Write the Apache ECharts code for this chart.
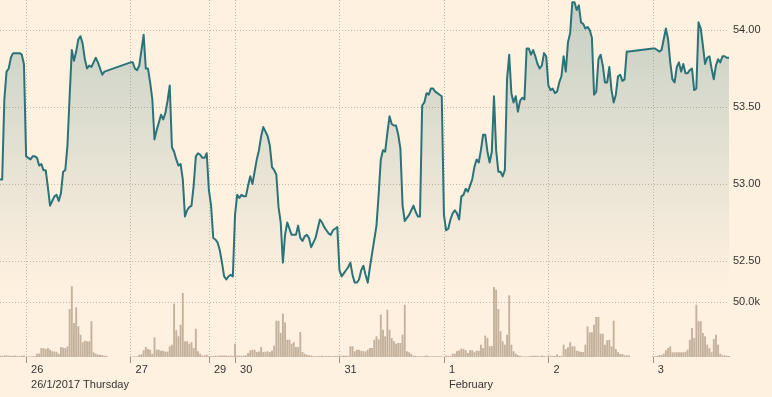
<!DOCTYPE html>
<html><head><meta charset="utf-8">
<script src="https://cdn.jsdelivr.net/npm/echarts@6/dist/echarts.min.js"></script>
<style>html,body{margin:0;padding:0;background:#fff1e0}#c{width:772px;height:397px}</style>
</head><body><div id="c"></div>
<script>
// Price, one value per 30-minute slot (null = no trades)
const prices = [
53.03,53.03,53.55,53.73,53.75,53.82,53.85,53.85,53.85,53.85,53.84,53.78,
53.18,53.17,53.16,53.18,53.18,53.17,53.12,53.13,53.09,53.09,52.98,52.86,
52.89,52.92,52.93,52.89,52.94,53.08,53.09,53.25,53.57,53.87,53.80,53.86,
53.94,53.96,53.91,53.81,53.75,53.77,53.76,53.79,53.82,53.79,53.75,53.71,
53.73,null,null,null,null,null,null,null,null,null,null,null,
53.79,53.79,53.75,53.74,53.77,53.87,53.97,53.75,53.75,53.66,53.55,53.29,
53.35,53.40,53.45,53.42,53.46,53.54,53.64,53.24,53.21,53.16,53.12,53.13,
53.03,52.79,52.83,52.85,52.86,52.99,53.18,53.20,53.19,53.17,53.17,53.20,
52.96,52.86,52.65,52.64,52.62,52.57,52.49,52.40,52.38,52.40,52.41,52.40,
52.80,52.93,52.91,52.93,52.92,52.92,52.99,53.05,53.00,53.08,53.16,53.22,
53.31,53.37,53.34,53.31,53.25,53.11,53.09,53.06,52.85,52.75,52.49,52.67,
52.75,52.71,52.67,52.67,52.67,52.73,52.65,52.63,52.66,52.67,52.65,52.59,
52.62,52.65,52.71,52.77,52.75,52.72,52.70,52.68,52.67,52.70,52.71,52.72,
52.44,52.40,52.42,52.44,52.46,52.49,52.41,52.36,52.36,52.38,52.44,52.47,
52.41,52.36,52.46,52.55,52.64,52.73,52.93,53.16,53.22,53.21,53.33,53.44,
53.39,53.38,53.38,53.32,53.23,52.86,52.76,52.78,52.80,52.83,52.86,52.82,
52.79,52.79,53.51,53.53,53.59,53.58,53.62,53.62,53.60,53.59,53.58,53.57,
52.80,52.70,52.71,52.77,52.81,52.83,52.81,52.77,52.92,52.93,52.97,52.95,
52.99,53.03,53.11,53.16,53.14,53.22,53.32,53.32,53.21,53.14,53.21,53.57,
53.22,53.08,53.08,53.05,53.09,53.68,53.84,53.59,53.53,53.57,53.47,53.54,
53.56,53.55,53.88,53.88,53.84,53.87,53.83,53.78,53.75,53.77,53.85,53.83,
53.64,53.61,53.62,53.59,53.60,53.66,53.70,53.83,53.73,53.92,53.98,54.18,
54.18,54.13,54.16,54.05,54.04,54.01,54.02,54.00,53.95,53.58,53.60,53.81,
53.84,53.77,53.66,53.66,53.76,53.61,53.53,53.58,53.70,53.71,53.67,53.68,
53.86,53.86,null,null,null,null,null,null,null,null,null,null,
53.88,53.88,53.87,53.86,53.87,53.94,54.01,53.94,53.79,53.68,53.66,53.76,
53.79,53.73,53.78,53.72,53.72,53.74,53.75,53.61,53.62,54.05,54.01,53.90,
53.78,53.82,53.83,53.75,53.68,53.77,53.81,53.79,53.83,53.83,53.82,53.82
];
// Volume in thousands, one value per slot
const volumesK = [
1.2,1.0,1.3,1.5,1.2,1.0,1.1,1.4,1.0,0.9,1.2,1.3,
0.5,0.6,0.5,0.7,0.8,3.0,3.2,8.2,8.0,7.3,8.2,6.6,
5.2,5.0,4.8,3.0,9.1,8.5,8.2,9.7,43.6,64.3,30.9,45.2,
27.9,20.3,13.4,14.8,14.3,14.3,32.5,4.3,3.0,2.1,2.1,1.8,
1.2,1.0,null,null,null,null,null,null,null,null,null,null,
0.4,0.4,0.5,0.6,2.1,2.5,6.1,9.1,7.3,6.6,3.0,17.9,
6.6,6.6,5.7,5.7,4.8,5.0,9.7,11.2,48.5,24.3,18.8,29.4,
58.2,14.3,14.3,12.1,13.4,8.2,25.7,5.2,3.0,1.2,1.5,2.1,
0.8,0.9,1.0,1.2,1.0,1.4,1.1,1.5,1.2,1.0,1.3,0.9,
12.1,1.2,1.2,1.0,1.3,1.5,3.6,6.1,6.6,6.6,4.5,5.0,
9.1,4.5,4.8,5.2,4.5,6.0,10.3,33.0,33.0,21.8,39.4,31.5,
15.7,15.7,12.1,13.4,9.1,9.1,22.7,4.5,3.0,2.1,1.5,1.2,
0.9,0.7,1.0,0.8,1.1,0.8,0.9,1.0,0.7,0.8,0.9,1.0,
1.2,1.0,1.3,1.2,1.0,9.7,9.7,5.2,6.6,6.6,5.7,5.2,
5.2,6.6,8.2,8.2,15.7,18.8,16.0,38.5,24.8,18.8,43.0,24.8,
17.3,14.3,12.1,12.7,12.7,20.3,47.5,5.2,4.3,2.7,1.2,1.2,
0.7,0.6,0.7,0.9,1.5,0.8,0.6,0.7,0.6,0.8,0.7,0.6,
0.5,1.2,1.2,0.9,3.0,3.0,5.5,6.1,7.6,7.6,6.1,3.6,
6.1,6.1,4.3,5.7,5.7,11.2,8.2,19.4,17.3,9.7,10.0,63.6,
61.2,43.6,23.4,14.3,11.2,20.3,56.1,11.2,5.2,3.0,1.8,1.0,
0.6,0.5,0.6,0.7,0.8,1.2,1.2,1.2,0.8,1.3,0.9,0.6,
1.2,1.2,1.0,1.0,2.4,1.0,1.2,11.2,7.3,8.8,13.4,9.7,
9.7,5.7,5.2,4.5,4.5,11.2,27.9,22.4,22.4,29.4,36.4,36.4,
21.2,21.2,11.2,15.2,15.7,9.7,33.0,7.3,4.3,2.7,2.7,1.5,
1.5,1.5,null,null,null,null,null,null,null,null,null,null,
0.6,0.6,0.9,1.8,1.8,3.0,6.1,8.2,9.7,4.3,4.3,4.3,
4.3,4.3,4.3,4.8,6.6,15.7,26.4,17.3,47.5,32.5,32.5,21.8,
18.8,11.2,8.0,4.3,16.4,20.3,11.2,3.0,1.5,1.5,1.2,0.8
];
// Second row of the time axis labels
const subLabels = {'2017-01-26': '26/1/2017 Thursday', '2017-02-01': 'February'};
const priceRange = [52.312, 54.195];
const priceStep = 0.5;
const volumeRangeK = [0, 65.45];
const volumeStepK = 50;

// Categories: 30-minute slots from 25 Jan 18:00, weekend (Fri 18:00 - Sun 18:00) removed
const categories = [];
(function () {
  let t = Date.UTC(2017, 0, 25, 18, 0);
  const step = 30 * 60000;
  const wkStart = Date.UTC(2017, 0, 27, 18, 0), wkEnd = Date.UTC(2017, 0, 29, 18, 0);
  while (categories.length < prices.length) {
    if (t === wkStart) t = wkEnd;
    categories.push(new Date(t).toISOString().slice(0, 16).replace('T', ' '));
    t += step;
  }
})();
const isDayStart = categories.map((c, i) => i > 0 && c.slice(0, 10) !== categories[i - 1].slice(0, 10));
const dayStartFn = (i) => !!isDayStart[i];

const FONT = 'Arial, "Liberation Sans", sans-serif';
const gridLine = {color: '#c7b9a6', width: 1, type: [1, 2]};

const chart = echarts.init(document.getElementById('c'), null, {renderer: 'canvas'});
chart.setOption({
  backgroundColor: '#fff1e0',
  animation: false,
  textStyle: {fontFamily: FONT},
  grid: [
    {left: 0, top: 0, width: 729, height: 290, outerBoundsMode: 'none', containLabel: false},
    {left: 0, top: 285, width: 729, height: 72, outerBoundsMode: 'none', containLabel: false},
    {left: 0, top: 0, width: 729, height: 357, outerBoundsMode: 'none', containLabel: false}
  ],
  xAxis: [
    {type: 'category', gridIndex: 0, data: categories, boundaryGap: false, show: false},
    {type: 'category', gridIndex: 1, data: categories, boundaryGap: false,
     axisLine: {show: false},
     axisTick: {show: true, interval: dayStartFn, length: 6, lineStyle: {color: '#9e9486', width: 1}},
     axisLabel: {show: true, interval: dayStartFn, align: 'left', padding: [0, 0, 0, 5], margin: 5,
       lineHeight: 15, color: '#333333', fontSize: 11, fontFamily: FONT, hideOverlap: false,
       formatter: function (value, index) {
         if (!isDayStart[index]) return '';
         const day = String(parseInt(value.slice(8, 10), 10));
         const sub = subLabels[value.slice(0, 10)];
         return sub ? day + '\n' + sub : day;
       }},
     splitLine: {show: false}},
    {type: 'category', gridIndex: 2, data: categories, boundaryGap: false,
     axisLine: {show: false}, axisTick: {show: false}, axisLabel: {show: false},
     splitLine: {show: true, interval: dayStartFn, lineStyle: gridLine}}
  ],
  yAxis: [
    {type: 'value', gridIndex: 0, position: 'right', min: priceRange[0], max: priceRange[1],
     minInterval: priceStep, maxInterval: priceStep, splitNumber: 3,
     axisLine: {show: false}, axisTick: {show: false},
     axisLabel: {showMinLabel: false, showMaxLabel: false, margin: 4, color: '#333333', fontSize: 11, fontFamily: FONT,
       formatter: v => Math.abs(v / priceStep - Math.round(v / priceStep)) < 1e-6 ? v.toFixed(2) : ''},
     splitLine: {show: true, showMinLine: false, showMaxLine: false, lineStyle: gridLine}},
    {type: 'value', gridIndex: 1, position: 'right', min: volumeRangeK[0], max: volumeRangeK[1],
     minInterval: volumeStepK, maxInterval: volumeStepK,
     axisLine: {show: false}, axisTick: {show: false},
     axisLabel: {showMinLabel: false, showMaxLabel: false, margin: 4, color: '#333333', fontSize: 11, fontFamily: FONT,
       formatter: v => (v > 0 && Math.abs(v % volumeStepK) < 1e-6) ? v.toFixed(1) + 'k' : ''},
     splitLine: {show: true, showMinLine: false, showMaxLine: false, lineStyle: gridLine}},
    {type: 'value', gridIndex: 2, show: false, min: 0, max: 1, splitLine: {show: false}}
  ],
  series: [
    {type: 'bar', name: 'Volume', xAxisIndex: 1, yAxisIndex: 1, data: volumesK, barWidth: '88%',
     itemStyle: {color: '#c4b29d'}, silent: true, z: 2},
    {type: 'line', name: 'Price', xAxisIndex: 0, yAxisIndex: 0, data: prices, connectNulls: true,
     symbol: 'none', showSymbol: false, silent: true, z: 3,
     lineStyle: {color: '#2a7379', width: 2, join: 'round'},
     areaStyle: {color: new echarts.graphic.LinearGradient(0, 0, 0, 1, [
       {offset: 0, color: 'rgba(42,115,121,0.38)'},
       {offset: 1, color: 'rgba(42,115,121,0.0)'}
     ])}}
  ]
});
</script></body></html>
